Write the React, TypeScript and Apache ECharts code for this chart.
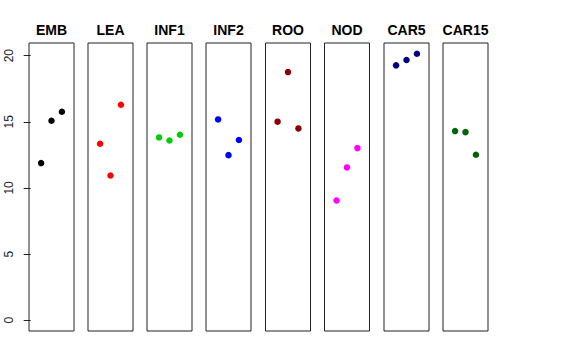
import React, { useEffect, useRef } from "react";
import * as echarts from "echarts";

const panels = ["EMB", "LEA", "INF1", "INF2", "ROO", "NOD", "CAR5", "CAR15"];
const colors = ["#000000", "#FF0000", "#00CD00", "#0000FF", "#8B0000", "#FF00FF", "#000080", "#006400"];
const xPositions = [1, 2, 3];
const values = [
  [11.88, 15.08, 15.76],
  [13.34, 10.94, 16.29],
  [13.82, 13.59, 14.02],
  [15.18, 12.48, 13.62],
  [15.01, 18.76, 14.5],
  [9.05, 11.55, 13.01],
  [19.27, 19.67, 20.15],
  [14.3, 14.22, 12.51],
];
const yTicks = [0, 5, 10, 15, 20];

export default function App() {
  const ref = useRef<HTMLDivElement>(null);
  useEffect(() => {
    if (!ref.current) return;
    const chart = echarts.init(ref.current, null, { renderer: "svg" });
    const lefts = [29, 88, 147, 206, 265.5, 324.5, 384, 443];
    const w = 45;
    const top = 43;
    const h = 288;
    const grids: any[] = [];
    const xAxes: any[] = [];
    const yAxes: any[] = [];
    const series: any[] = [];
    const graphics: any[] = [];
    panels.forEach((name, i) => {
      grids.push({
        left: lefts[i],
        top,
        width: w,
        height: h,
        show: true,
        borderColor: "#222",
        borderWidth: 1,
        backgroundColor: "transparent",
      });
      xAxes.push({
        gridIndex: i,
        type: "value",
        min: -0.16,
        max: 4.16,
        show: false,
      });
      yAxes.push({
        gridIndex: i,
        type: "value",
        min: -0.82,
        max: 20.96,
        show: i === 0,
        splitLine: { show: false },
        axisLine: { show: false },
        axisTick: {
          show: true,
          inside: false,
          length: 7,
          lineStyle: { color: "#222" },
          customValues: yTicks,
        },
        axisLabel: {
          show: true,
          rotate: 90,
          margin: 14,
          fontSize: 12,
          color: "#222",
          fontFamily: "Liberation Sans, Arial, sans-serif",
          customValues: yTicks,
        },
      });
      series.push({
        type: "scatter",
        xAxisIndex: i,
        yAxisIndex: i,
        symbol: "circle",
        symbolSize: 6.5,
        itemStyle: { color: colors[i], opacity: 1 },
        data: xPositions.map((x, j) => [x, values[i][j]]),
      });
      graphics.push({
        type: "text",
        x: lefts[i] + w / 2,
        y: 30,
        style: {
          text: name,
          textAlign: "center",
          textVerticalAlign: "middle",
          font: "bold 14px 'Liberation Sans', Arial, sans-serif",
          fill: "#000",
        },
      });
    });
    chart.setOption({
      animation: false,
      backgroundColor: "#fff",
      grid: grids,
      xAxis: xAxes,
      yAxis: yAxes,
      series,
      graphic: graphics,
    });
    return () => chart.dispose();
  }, []);
  return (
    <div
      ref={ref}
      style={{ position: "absolute", left: 0, top: 0, width: 576, height: 360 }}
    />
  );
}
